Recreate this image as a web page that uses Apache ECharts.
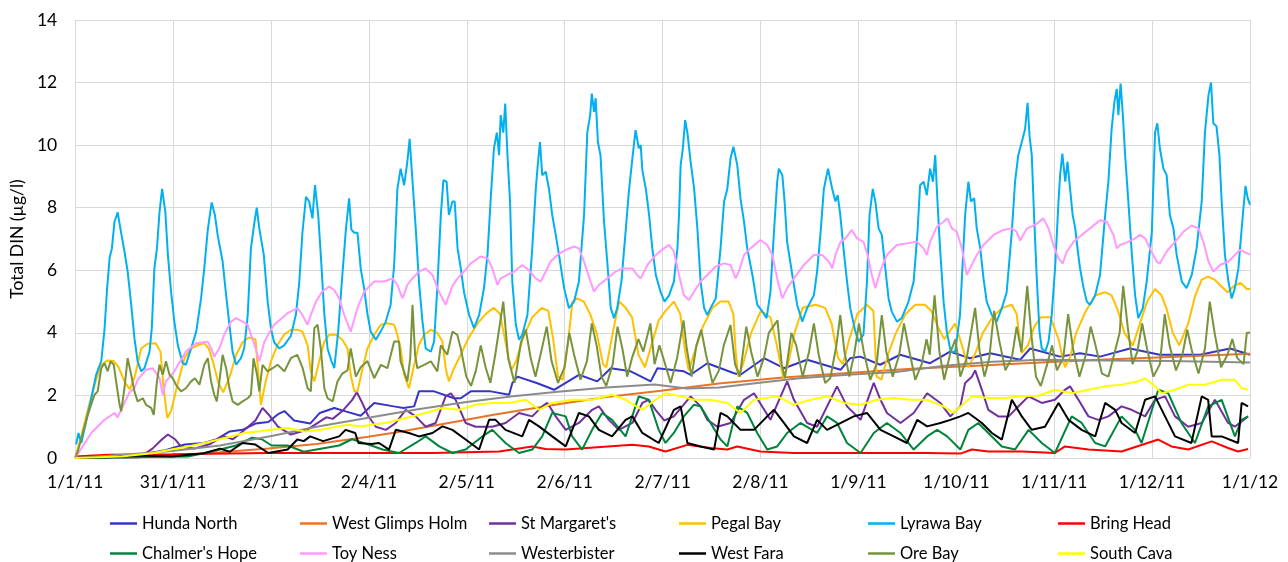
<!DOCTYPE html>
<html><head><meta charset="utf-8">
<script src="https://cdn.jsdelivr.net/npm/echarts@6/dist/echarts.min.js"></script>
<style>html,body{margin:0;padding:0;background:#fff}#c{width:1288px;height:562px}</style>
</head><body><div id="c"></div>
<script>
const tickLabels = ['1/1/11','31/1/11','2/3/11','2/4/11','2/5/11','2/6/11','2/7/11','2/8/11','1/9/11','1/10/11','1/11/11','1/12/11','1/1/12'];
const seriesNames = ['Hunda North','West Glimps Holm',"St Margaret's",'Pegal Bay','Lyrawa Bay','Bring Head',"Chalmer's Hope",'Toy Ness','Westerbister','West Fara','Ore Bay','South Cava'];
const seriesColors = ['#3535C8','#E8732A','#7030A0','#FFC000','#00B0F0','#FF0000','#00843C','#FF99FF','#8C8C8C','#000000','#77933C','#FFFF00'];

// [day of year, value]
const hundaNorth = [[0,0.02],[10,0.05],[20,0.1],[28,0.25],[34,0.43],[40,0.48],[44,0.6],[48,0.85],[52,0.9],[56,1.1],[60,1.15],[63,1.4],[65,1.5],[68,1.2],[73,1.1],[76,1.44],[80.5,1.6],[84,1.49],[88.7,1.35],[92.9,1.76],[99,1.65],[102,1.6],[105.3,1.65],[106.8,2.13],[111.5,2.13],[117.7,1.91],[119.8,1.91],[122.9,2.13],[129.1,2.13],[134.8,2.02],[135.8,2.39],[137.4,2.6],[143.6,2.39],[148.8,2.18],[156.5,2.66],[162.2,2.45],[166.4,2.87],[172.6,2.77],[178.8,2.45],[180.9,2.87],[189.1,2.77],[191.2,2.66],[196.4,3.03],[204.7,2.71],[206.7,2.66],[214.0,3.19],[220.2,2.87],[227.4,3.14],[237.8,2.82],[240.8,3.19],[243.9,3.24],[250.1,2.98],[256.3,3.3],[265.6,3.03],[271.8,3.4],[278.0,3.19],[284.3,3.35],[293.6,3.14],[296.7,3.5],[306.0,3.24],[312.2,3.35],[318.4,3.24],[327.7,3.5],[337.0,3.3],[349.5,3.3],[358.8,3.5],[365,3.3]];
const westGlimpsHolm = [[0,0.03],[30,0.08],[45,0.18],[60,0.3],[75,0.45],[91,0.68],[100,0.82],[116,1.12],[130,1.38],[150,1.72],[165,1.95],[182,2.15],[200,2.38],[220,2.57],[240,2.72],[260,2.85],[280,2.95],[300,3.05],[320,3.15],[340,3.23],[365,3.33]];
const stMargarets = [[0,0],[20,0.02],[24,0.3],[27,0.6],[28.8,0.75],[31,0.6],[33,0.35],[37,0.3],[42,0.45],[46,0.7],[49,0.6],[52,0.85],[56,1.2],[58.2,1.6],[60,1.4],[63,1.0],[67,0.75],[72,0.9],[75,1.1],[78,1.3],[80,1.25],[83,1.5],[86,1.85],[87.5,2.1],[89,1.8],[91,1.35],[93.4,1.0],[96.5,0.9],[99.6,1.12],[102.7,1.54],[105.8,1.33],[108.9,1.0],[112,1.12],[115.1,1.97],[116.7,2.07],[118.2,1.86],[121.3,1.12],[124.4,1.0],[129.6,1.0],[133.7,1.12],[137.9,1.44],[142,1.33],[145.1,1.65],[146.7,1.76],[149.3,1.33],[152.4,0.9],[156.5,1.12],[160.6,1.54],[162.7,1.65],[165.8,1.22],[168.9,0.9],[173.1,1.12],[176.2,1.76],[178.2,1.86],[180.3,1.54],[183,1.2],[186,1.33],[191.2,1.97],[194.3,1.65],[196.4,1.22],[199.5,1.0],[203.6,1.12],[207.8,1.86],[210.9,2.07],[216,1.22],[221.2,2.45],[223.3,1.86],[227.4,1.12],[230.5,1.0],[233.6,1.65],[236.7,2.29],[239.8,1.65],[244,1.22],[248.1,2.4],[250.2,1.86],[252.2,1.44],[256.4,1.12],[260.5,1.44],[264.7,2.07],[268.8,1.76],[271.9,1.33],[275,1.65],[276.5,2.4],[278.6,2.6],[279.6,2.8],[281.7,2.18],[283.7,1.54],[286.8,1.33],[290,1.33],[294.1,1.76],[296.2,1.97],[300.3,1.76],[304.4,1.86],[307.5,2.18],[309.1,2.29],[311.7,1.86],[314.8,1.33],[317.9,1.22],[321,1.33],[325.1,1.65],[328.2,1.54],[332.4,1.33],[335.5,1.86],[338.6,1.97],[341.7,1.33],[345.8,1.0],[350,1.12],[354.1,1.86],[358.2,1.12],[360.3,1.0],[364.4,1.33]];
const pegalBay = [[0,0],[1.9,0.7],[3.4,1.33],[5,1.97],[6.5,2.5],[8.1,2.98],[10.1,3.12],[12,3.1],[13.5,2.9],[15.5,2.4],[17,2.2],[18.5,2.6],[20.5,3.5],[22.5,3.65],[25,3.67],[26.5,3.4],[27.5,2.2],[28.6,1.28],[29.8,1.5],[31.9,2.4],[34,3.2],[36,3.5],[38,3.6],[40,3.67],[41.5,3.5],[43,3.0],[44.5,2.4],[46,2.1],[48,2.6],[50,3.3],[52,3.7],[54,3.85],[56,3.8],[57.7,1.7],[59.2,2.45],[60.8,3.09],[62.9,3.62],[64.9,3.94],[67.0,4.1],[69.1,4.1],[70.6,4.04],[72.2,3.6],[73.2,2.77],[74.3,2.45],[75.8,3.09],[77.4,3.72],[78.9,3.94],[81.0,3.94],[83.0,3.78],[84.6,3.5],[85.6,2.66],[86.7,2.13],[87.7,2.13],[89.3,2.87],[90.8,3.5],[92.9,3.94],[94.9,4.26],[97.0,4.31],[99.1,4.26],[100.1,3.94],[101.1,3.5],[102.2,2.66],[103.7,2.23],[105.3,2.98],[106.8,3.62],[108.4,3.94],[110.5,4.1],[112.5,4.0],[114.1,3.72],[115.1,2.87],[116.1,2.45],[117.7,2.87],[119.8,3.3],[122,3.8],[125,4.3],[127.5,4.6],[130,4.8],[132,4.6],[133.5,3.8],[135.5,2.8],[137,3.1],[139,3.8],[142,4.5],[145,4.8],[147,4.7],[148.5,3.8],[150,2.6],[151.5,2.5],[153,3.6],[154.5,5.0],[156,5.1],[158,5.0],[160,4.6],[162,4.0],[164,3.0],[165,2.9],[167,4.0],[169,5.0],[171,4.8],[173,4.5],[175,3.3],[177,2.9],[179,3.6],[181.3,4.4],[183.4,4.7],[186,5.0],[188,4.6],[189.5,3.4],[190.6,2.8],[192.5,3.4],[195,4.2],[198,4.8],[200.5,5.0],[203,5.0],[204.5,4.6],[205.2,3.4],[206,2.6],[207.5,3.0],[210,4.0],[213,4.7],[216,4.5],[218,3.6],[220,2.55],[221.5,3.0],[223.5,4.0],[226,4.8],[230,4.9],[233,4.8],[235,4.3],[237,3.2],[238.5,3.0],[240.5,3.8],[243,4.6],[246,4.9],[248,4.7],[249,2.6],[250.5,2.5],[252.5,3.3],[255,4.0],[258,4.6],[261,4.9],[264,4.9],[266,4.7],[268,4.2],[270,3.8],[273.4,4.3],[275.5,3.6],[277.5,2.9],[279.5,3.3],[282,4.0],[285,4.5],[288,4.8],[291,4.9],[292.5,4.6],[294,3.35],[296,3.6],[298,4.2],[300,4.5],[303,4.5],[305.5,3.8],[307.5,2.9],[309,3.2],[311,4.0],[314,4.7],[317,5.2],[320,5.3],[322,5.2],[324,4.7],[326,4.0],[328.6,3.6],[330.5,4.2],[333,5.0],[335.5,5.4],[337.5,5.2],[339,4.8],[341,4.0],[343,3.6],[345.8,4.3],[348,5.2],[350,5.7],[352,5.8],[354,5.7],[356,5.5],[358,5.3],[360,5.5],[362,5.6],[364,5.4],[365,5.4]];
const lyrawaBay = [[0.3,0.43],[1.0,0.8],[1.9,0.48],[5.0,1.9],[6.5,2.66],[8.1,3.1],[9.1,4.1],[9.9,5.4],[10.7,6.4],[11.4,6.7],[12.2,7.55],[13.2,7.85],[14.1,7.3],[15.3,6.6],[16.3,5.96],[17.4,4.9],[18.4,3.83],[19.4,3.09],[20.5,2.77],[21.5,2.87],[23.1,3.4],[23.8,4.15],[24.6,6.06],[25.4,6.7],[26.2,7.87],[27.0,8.6],[28.0,7.87],[28.8,6.49],[29.8,5.3],[30.8,4.36],[31.9,3.6],[33.4,3.03],[34.4,2.98],[36.0,3.5],[37.6,4.04],[39.1,5.1],[40.1,6.06],[41.2,7.3],[42.4,8.17],[43.4,7.77],[44.3,7.1],[45.8,6.28],[46.9,5.2],[47.9,4.26],[48.9,3.4],[50.0,2.98],[51.5,3.19],[52.5,3.5],[53.6,4.57],[54.6,6.7],[55.7,7.55],[56.4,8.0],[57.2,7.34],[58.6,6.49],[59.8,5.0],[60.8,4.15],[61.8,3.7],[63.4,3.5],[64.9,3.6],[67.0,3.9],[68.6,4.6],[69.6,5.6],[70.6,7.2],[71.7,8.35],[72.7,8.2],[73.7,7.66],[74.5,8.72],[75.5,7.77],[76.3,6.5],[77.4,4.6],[78.4,3.5],[79.6,3.1],[80.5,2.87],[81.7,4.04],[83.0,5.85],[84.1,7.3],[85.1,8.3],[85.8,7.3],[86.7,7.2],[87.7,7.2],[88.7,6.06],[89.8,5.4],[90.8,4.6],[91.8,4.04],[93.4,3.78],[94.9,4.04],[96.5,4.36],[98.0,4.9],[99.1,6.17],[100.1,8.6],[101.1,9.25],[102.2,8.72],[103.2,9.47],[103.9,10.2],[104.5,10.2],[105.1,8.4],[105.8,7.34],[106.8,5.64],[107.9,4.36],[108.9,3.5],[110.5,3.4],[111.5,3.72],[112.5,5.43],[113.6,7.77],[114.4,8.88],[115.4,8.83],[116.1,7.77],[117.2,8.2],[117.9,8.2],[118.8,6.7],[119.8,6.06],[120.8,5.3],[122.4,4.57],[123.9,4.15],[125.5,4.57],[127.0,5.43],[128.1,6.5],[129.1,8.3],[130.1,9.9],[131.0,10.4],[131.7,9.68],[132.2,10.96],[133.0,10.4],[133.6,11.33],[134.3,9.68],[135.1,8.2],[135.8,5.64],[136.9,4.26],[137.9,3.78],[138.9,3.94],[140.5,4.57],[142.0,6.7],[143.1,8.6],[143.8,9.47],[144.4,10.1],[145.1,9.04],[146.2,9.15],[147.2,8.6],[148.2,7.77],[149.3,7.13],[150.3,6.5],[151.9,5.43],[153.4,4.79],[155.0,5.0],[156.5,5.64],[158.1,7.77],[159.1,10.4],[160.0,10.96],[160.5,11.65],[161.2,11.06],[161.7,11.5],[162.4,10.1],[163.2,9.68],[164.3,7.55],[165.3,6.28],[166.4,4.79],[167.4,4.47],[168.4,4.79],[169.7,5.64],[171.0,7.23],[172.0,8.5],[173.1,9.57],[174.1,10.48],[175.1,9.9],[175.7,10.0],[176.2,9.2],[177.3,8.6],[178.3,7.77],[179.3,6.7],[180.4,5.85],[181.9,5.3],[183.1,5.0],[184.5,5.2],[186.0,5.64],[187.1,6.7],[187.6,7.77],[188.1,9.36],[188.8,9.9],[189.5,10.8],[190.2,10.4],[191.2,9.47],[192.3,8.6],[193.3,7.34],[194.3,5.64],[195.4,4.79],[196.4,4.57],[197.4,4.79],[199.0,5.1],[200.5,6.7],[201.6,8.2],[202.6,8.6],[203.6,9.57],[204.5,9.95],[205.7,9.36],[206.7,8.3],[207.8,7.55],[208.8,6.7],[210.4,5.85],[211.9,4.9],[213.5,4.68],[214.8,4.47],[216.0,5.3],[217.1,7.23],[218.1,8.83],[218.6,9.25],[219.7,9.04],[220.4,8.2],[221.2,6.9],[222.8,5.85],[224.3,4.9],[225.9,4.36],[227.4,4.79],[229.5,5.2],[230.5,5.96],[231.6,7.23],[232.6,8.6],[233.9,9.25],[235.2,8.6],[236.2,8.2],[236.9,8.4],[237.7,7.77],[238.7,6.7],[239.8,5.64],[240.8,4.79],[242.4,4.04],[243.4,3.72],[244.9,3.94],[246.0,5.64],[246.8,7.77],[247.8,8.6],[248.6,8.2],[249.6,7.34],[250.6,7.13],[251.7,6.06],[252.7,5.1],[253.7,4.68],[255.3,4.36],[256.8,4.47],[258.9,5.0],[260.5,5.64],[261.7,7.23],[262.5,8.72],[263.6,8.83],[264.6,8.4],[265.6,9.25],[266.5,8.83],[267.2,9.68],[267.9,8.2],[268.7,6.7],[269.8,5.0],[270.8,4.04],[272.0,3.4],[273.4,3.4],[274.9,4.57],[276.5,7.77],[277.5,8.83],[278.3,8.2],[279.3,8.3],[280.1,7.34],[281.2,6.7],[282.2,5.74],[283.2,5.0],[284.8,4.57],[286.3,4.36],[287.9,4.79],[289.4,5.3],[291.0,7.23],[292.0,8.83],[293.0,9.68],[294.1,10.1],[295.1,10.5],[295.9,11.35],[296.5,10.3],[297.2,9.68],[297.9,7.77],[298.8,5.64],[299.6,4.04],[300.3,3.5],[301.4,3.4],[302.4,3.72],[303.4,4.57],[304.5,6.17],[305.5,8.2],[306.0,9.04],[306.7,9.73],[307.6,8.83],[308.3,9.47],[309.1,8.6],[309.9,7.77],[310.7,7.34],[311.4,6.7],[312.2,6.06],[313.3,5.43],[314.3,5.0],[315.3,4.9],[316.9,5.2],[318.4,5.85],[320.0,7.77],[321.0,8.83],[322.0,10.5],[322.9,11.4],[323.6,11.8],[324.1,10.96],[324.8,11.97],[325.5,10.96],[326.2,9.68],[327.2,8.2],[328.3,6.5],[329.3,5.2],[330.3,4.47],[331.7,4.79],[332.9,5.64],[334.5,7.23],[335.5,10.4],[336.2,10.7],[337.0,9.9],[338.1,9.25],[339.1,9.04],[340.1,7.77],[341.2,7.34],[342.2,6.5],[343.8,5.64],[345.3,5.43],[346.9,5.85],[348.4,6.7],[350.0,8.2],[351.0,10.4],[352.1,11.6],[352.9,12.0],[353.6,10.7],[354.6,10.6],[355.5,9.68],[356.2,8.2],[357.2,6.5],[358.3,5.64],[359.3,5.1],[360.3,5.43],[361.4,6.06],[361.9,6.7],[362.8,7.8],[363.6,8.7],[364.3,8.3],[365,8.1]];
const bringHead = [[0,0.05],[10,0.1],[30,0.12],[60,0.16],[90.3,0.16],[111,0.16],[131.7,0.21],[138.9,0.32],[142,0.37],[146.2,0.29],[152.4,0.27],[173.1,0.42],[178.2,0.37],[183.4,0.21],[190.2,0.42],[197.4,0.32],[202.6,0.27],[205.7,0.37],[212.9,0.21],[223.3,0.16],[244,0.16],[264.7,0.16],[275,0.14],[278.6,0.27],[283.7,0.21],[294.1,0.21],[304.4,0.16],[307.5,0.37],[314.8,0.27],[325.1,0.21],[336.5,0.59],[340.6,0.37],[345.8,0.27],[353.1,0.53],[358.2,0.32],[361.3,0.21],[364.4,0.29]];
const chalmersHope = [[0,0],[35,0.05],[40,0.15],[45,0.27],[50,0.4],[55,0.65],[58,0.6],[61,0.4],[66,0.4],[71,0.2],[82,0.4],[86,0.6],[89,0.5],[92,0.4],[95.5,0.27],[100.6,0.16],[105.8,0.48],[108.9,0.69],[113.1,0.37],[117.2,0.16],[121.3,0.27],[126.5,0.69],[129.6,0.9],[133.7,0.48],[137.9,0.16],[142,0.27],[145.1,0.69],[148.2,1.44],[152.4,1.33],[154.4,0.69],[157.5,0.27],[160.6,0.9],[163.7,1.44],[166.8,1.22],[171,0.69],[175.1,1.97],[178.2,1.86],[181.3,0.9],[183.4,0.48],[186,0.8],[189.1,1.33],[192.2,1.7],[194.3,1.65],[197.4,1.12],[200.5,0.59],[202.6,0.37],[205.7,1.65],[208.8,1.44],[211.9,0.8],[215,0.27],[218.1,0.37],[221.2,0.8],[225.3,1.12],[230.5,0.8],[233.6,1.33],[236.7,1.12],[239.8,0.48],[244,0.16],[248.1,0.8],[252.2,1.12],[256.4,0.8],[260.5,0.27],[264.7,0.69],[267.8,0.9],[270.9,0.69],[275,0.27],[277.5,0.9],[280.6,1.12],[283.7,0.8],[287.9,0.37],[292,0.27],[296.2,0.9],[300.3,0.48],[304.4,0.16],[309.6,1.33],[312.7,1.12],[316.9,0.48],[320,0.37],[325.1,1.33],[329.3,0.9],[331.3,0.48],[336.5,2.18],[339.6,2.07],[343.7,1.12],[347.9,0.48],[352,1.65],[356.2,1.86],[360.3,0.69],[362.4,1.22],[364.4,1.33]];
const toyNess = [[0,0],[5,0.8],[9.1,1.22],[12.2,1.44],[13.2,1.3],[14.3,1.55],[16.9,2.1],[18.4,2.23],[19.4,2.5],[22.0,2.82],[24.1,2.87],[26.2,2.55],[27.2,2.02],[28.2,2.45],[30.8,2.77],[34.4,3.4],[37.6,3.67],[41.2,3.72],[42.2,3.51],[43.2,3.24],[44.8,3.51],[46.3,3.94],[48.4,4.36],[50.0,4.47],[52.0,4.36],[53.6,4.26],[55.7,3.62],[57.2,3.09],[58.8,3.72],[60.8,4.1],[61.8,4.26],[66.0,4.63],[69.1,4.79],[70.6,4.57],[72.2,4.26],[73.2,4.57],[74.8,5.0],[76.8,5.32],[78.9,5.48],[80.5,5.37],[82.0,5.1],[83.6,4.57],[85.6,4.04],[87.7,4.79],[89.8,5.32],[92.9,5.64],[96.0,5.64],[98.6,5.74],[100.1,5.53],[101.7,5.1],[103.2,5.53],[104.8,5.74],[106.8,5.96],[108.9,6.06],[111.0,5.85],[113.0,5.32],[115.1,4.9],[117.2,5.5],[118.8,5.74],[120.8,5.96],[122.9,6.22],[126.0,6.44],[128.1,6.38],[129.6,6.06],[131.2,5.53],[132.2,5.74],[134.3,5.85],[136.4,5.96],[138.9,6.17],[141.0,6.0],[143.1,5.74],[144.6,5.64],[146.2,5.96],[147.7,6.28],[149.8,6.49],[152.4,6.65],[155.0,6.76],[156.5,6.7],[158.1,6.28],[160.1,5.64],[161.2,5.32],[162.7,5.53],[165.3,5.74],[167.9,5.96],[170.0,6.06],[173.1,6.06],[174.6,5.85],[175.7,5.74],[177.8,6.17],[180.4,6.49],[182.9,6.7],[184.5,6.81],[186.0,6.6],[187.6,5.85],[189.1,5.2],[190.7,5.05],[192.3,5.32],[194.3,5.64],[196.4,5.85],[199.0,6.12],[201.6,6.22],[203.6,6.17],[205.2,5.74],[206.2,5.96],[207.8,6.49],[209.8,6.7],[212.9,6.97],[215.0,6.81],[216.6,6.49],[218.1,5.74],[219.7,5.1],[221.2,5.43],[223.3,5.74],[226.4,6.17],[229.5,6.49],[232.1,6.49],[234.1,6.28],[235.2,6.06],[236.2,6.49],[237.8,6.91],[239.3,7.02],[241.3,7.29],[242.9,7.02],[244.9,6.91],[246.2,6.49],[247.5,5.85],[248.6,5.43],[250.1,5.96],[252.2,6.49],[255.3,6.81],[258.4,6.86],[261.5,6.91],[263.6,6.7],[264.6,6.49],[265.6,6.91],[267.7,7.39],[269.8,7.55],[271.0,7.66],[272.4,7.34],[273.9,7.23],[275.5,6.7],[277.0,5.85],[278.0,6.06],[280.1,6.49],[282.2,6.81],[285.3,7.13],[288.4,7.29],[291.0,7.34],[292.5,7.23],[293.6,6.95],[295.7,7.34],[298.3,7.45],[300.8,7.66],[302.4,7.34],[303.9,6.81],[305.5,6.38],[306.8,6.22],[308.1,6.6],[310.2,6.91],[312.7,7.13],[315.3,7.34],[318.4,7.6],[320.5,7.55],[322.6,7.13],[323.6,6.7],[324.6,6.81],[327.2,6.91],[329.3,7.02],[330.8,7.13],[332.4,7.02],[333.9,6.7],[336.0,6.28],[337.0,6.22],[339.1,6.6],[341.7,6.91],[344.3,7.23],[346.9,7.43],[349.0,7.34],[350.5,6.91],[352.1,6.28],[353.6,5.96],[355.7,6.17],[358.3,6.28],[360.3,6.49],[361.9,6.65],[365,6.5]];
const westerbister = [[0,0],[15,0.1],[30,0.22],[45,0.4],[61,0.7],[75,1.0],[92,1.3],[106,1.55],[121,1.78],[136,1.97],[150,2.12],[165,2.25],[180,2.35],[190,2.22],[200,2.25],[212,2.4],[225,2.55],[240,2.66],[255,2.75],[270,2.95],[285,3.08],[300,3.14],[320,3.12],[340,3.1],[365,3.05]];
const westFara = [[0,0],[10,0.02],[20,0.08],[30,0.05],[40,0.15],[45,0.3],[48,0.2],[52,0.48],[56,0.43],[60,0.16],[66,0.27],[69,0.59],[71,0.54],[73,0.69],[77,0.54],[82,0.69],[84,0.9],[87,0.8],[88,0.48],[92,0.45],[94.4,0.48],[97.5,0.27],[99.6,0.9],[103.7,0.8],[106.8,0.69],[111,0.8],[114.1,1.01],[117.2,0.9],[121.3,0.59],[125.5,0.27],[128.6,1.22],[130.6,1.22],[133.7,0.9],[138.9,0.69],[141,1.22],[144.1,1.01],[148.2,0.69],[152.4,0.37],[156.5,1.44],[159.6,1.33],[162.7,0.9],[166.8,0.69],[171,1.22],[173.1,1.33],[176.2,0.8],[181.3,0.48],[186,1.54],[188.1,1.65],[190.2,0.48],[194.3,0.37],[198.5,0.27],[200.5,1.44],[202.6,1.33],[206.7,0.9],[210.9,0.9],[215,1.33],[217.1,1.54],[220.2,1.12],[223.3,0.69],[227.4,0.48],[230.5,1.22],[233.6,0.9],[241.9,1.33],[246,1.44],[250.2,0.9],[254.3,0.69],[258.4,0.48],[261.6,1.22],[264.7,1.01],[268.8,1.12],[271.9,1.22],[275,1.33],[277.5,1.44],[281.7,1.12],[284.8,0.8],[287.9,0.59],[291,1.86],[294.1,1.33],[297.2,0.9],[301.3,1.0],[305.5,1.76],[308.6,1.22],[312.7,0.9],[316.9,0.69],[320,1.76],[323.1,1.54],[325.1,1.12],[329.3,0.8],[332.4,1.86],[335.5,1.97],[338.6,1.33],[341.7,0.69],[346.8,0.48],[350,1.97],[352,1.86],[353.1,0.69],[356.2,0.69],[361.3,0.48],[362.4,1.76],[364.4,1.65]];
const oreBay = [[0,0],[0.8,0.21],[3.9,1.38],[6.0,2.02],[7.0,2.13],[8.1,2.87],[9.1,3.03],[10.1,2.77],[11.0,3.09],[12.0,2.98],[12.7,2.45],[13.8,1.7],[14.3,1.49],[15.3,2.23],[16.3,3.19],[17.4,2.66],[18.4,2.13],[19.4,1.81],[21.0,1.91],[22.0,1.7],[23.6,1.6],[24.4,1.38],[25.4,2.45],[26.2,2.98],[27.2,2.66],[28.2,3.09],[29.3,2.66],[30.3,2.55],[31.3,2.34],[32.9,2.13],[34.4,2.23],[36.0,2.45],[37.2,2.55],[38.6,2.34],[40.1,2.98],[41.2,3.19],[42.2,2.45],[43.2,2.02],[44.0,1.81],[44.8,2.45],[45.8,3.3],[46.9,2.87],[47.9,2.23],[48.9,1.81],[50.5,1.7],[52.0,1.81],[53.6,1.91],[54.6,2.02],[55.4,3.19],[56.5,2.66],[57.2,2.13],[58.2,2.98],[59.8,2.77],[61.3,2.87],[62.9,2.98],[65,2.77],[67,3.19],[69,3.3],[70.6,2.9],[72.2,2.23],[73.2,2.13],[74.3,4.15],[75.3,4.26],[76.3,3.5],[77.4,2.23],[78.4,1.91],[80,1.81],[81.5,2.45],[83,2.7],[84.6,2.8],[85.6,3.5],[87.2,2.6],[88.7,2.9],[90.8,3.1],[92.9,2.55],[95,2.98],[97,2.87],[99.1,3.72],[100.6,3.72],[101.1,3.09],[103.2,2.45],[104.1,3.2],[104.8,4.9],[105.6,3.3],[106.3,2.87],[108.4,2.98],[110.5,3.09],[112.5,2.77],[113.6,3.6],[115.6,3.3],[117.2,4.04],[118.7,3.94],[119.8,3.5],[121.5,2.6],[123,2.3],[124.5,2.8],[126,3.6],[127.5,2.9],[129,2.4],[130.5,3.3],[133,5.0],[134.5,3.2],[136.5,2.4],[138.5,3.7],[140,4.1],[141.5,3.2],[143,2.6],[145,3.5],[146.5,4.2],[148,3.1],[150,2.4],[152,2.9],[153.5,4.0],[155,3.3],[157,2.5],[159,3.1],[160.5,4.3],[162,3.6],[163.5,2.6],[165,2.3],[167,3.0],[168.5,4.2],[170,3.5],[171.5,2.6],[173,3.2],[175,3.8],[176.5,3.4],[178.7,4.3],[180,3.0],[181.5,3.6],[183,3.1],[185,2.4],[187,3.2],[189,4.4],[190,3.5],[191.5,2.6],[193,3.6],[194.5,4.1],[196,3.3],[198,2.4],[200,2.8],[201.5,3.6],[203.6,4.25],[205,3.0],[206.5,2.6],[208.5,4.2],[210,3.4],[212,2.6],[214,3.2],[215.5,4.0],[218.2,4.4],[219.5,3.0],[220.5,2.55],[222.5,4.0],[224,3.6],[226,2.6],[228,3.4],[229.5,4.3],[231,3.3],[233,2.4],[234.6,2.55],[236.5,3.6],[237.7,4.57],[239,3.4],[240.5,2.6],[242,3.3],[243.5,4.3],[245,3.4],[247,2.5],[249,3.0],[250.6,4.57],[252,3.4],[254,2.6],[256,3.3],[257.5,4.3],[259,3.5],[261,2.5],[263,3.0],[264.5,3.8],[265.5,3.3],[267,5.2],[268.5,3.4],[270,2.5],[272,3.4],[273.5,3.8],[275,2.6],[277,3.2],[279.6,4.8],[281,3.4],[282.5,2.6],[284,3.2],[285.5,4.7],[287,3.8],[289,2.8],[291,3.2],[292.5,4.2],[294,3.4],[295.8,5.5],[297,4.0],[298.5,2.6],[300,2.3],[302,3.0],[303.5,3.6],[305,2.8],[307,3.2],[308.5,4.6],[310,3.5],[312,2.6],[314,3.3],[315.5,4.2],[317,3.6],[319,2.7],[321,2.6],[323,3.4],[324.5,4.0],[325.6,5.5],[327,4.2],[328.5,3.0],[330,3.4],[331.5,4.3],[333,3.5],[335,2.6],[337,3.0],[338.5,4.6],[340,3.6],[342,2.8],[344,3.3],[345.5,4.1],[347,3.4],[349,2.7],[351,3.5],[352.5,5.0],[354,4.0],[356,2.9],[358,3.3],[359.5,3.8],[361,3.2],[363,3.0],[364,4.0],[365,4.0]];
const southCava = [[0,0],[14.3,0.05],[24.6,0.16],[29.8,0.27],[35,0.37],[40.1,0.48],[48.4,0.69],[52.5,0.8],[56.7,0.85],[60.8,0.9],[66,0.96],[71.2,0.85],[76.3,0.9],[81.5,1.01],[84.6,1.06],[88.8,1.01],[91.9,1.06],[96.5,1.12],[102.7,1.28],[108.9,1.44],[114.1,1.6],[119.3,1.54],[124.4,1.7],[129.6,1.76],[134.8,1.76],[140.0,1.86],[144.1,1.54],[148.2,1.76],[154.4,1.86],[160.6,1.86],[166.8,2.02],[171.0,1.86],[176.2,1.54],[180.3,1.86],[183.4,2.07],[188.1,1.97],[192.2,1.86],[197.4,1.86],[202.6,1.76],[206.7,1.44],[210.9,1.86],[218.1,1.97],[223.3,1.7],[228.5,1.86],[233.6,1.97],[238.8,1.76],[244.0,1.7],[249.1,1.86],[254.3,1.92],[259.5,1.86],[264.7,1.86],[269.8,1.65],[272.9,1.44],[278.6,1.97],[283.7,1.92],[288.9,1.92],[294.1,1.97],[299.3,1.99],[304.4,2.18],[309.6,2.07],[314.8,2.18],[320.0,2.29],[325.1,2.34],[330.3,2.45],[332.4,2.55],[335.5,2.29],[337.5,2.07],[341.7,2.18],[345.8,2.34],[351.0,2.34],[356.2,2.5],[360.3,2.5],[362.4,2.23],[364.4,2.18]];

const seriesData = [hundaNorth, westGlimpsHolm, stMargarets, pegalBay, lyrawaBay, bringHead, chalmersHope, toyNess, westerbister, westFara, oreBay, southCava];

const FONT = 'Lato';
const TICK = 365 / 12;
const chart = echarts.init(document.getElementById('c'), null, {renderer: 'canvas'});
const legendCols = [110, 300, 489, 679, 868, 1058];
const legendRows = [515, 545];
const legends = seriesNames.map((n, i) => ({
  left: legendCols[i % 6], top: legendRows[Math.floor(i / 6)], padding: 0,
  itemWidth: 27, itemHeight: 2.5, icon: 'rect', selectedMode: false,
  textStyle: {fontFamily: FONT, fontSize: 16.5, color: '#000'},
  data: [n]
}));
chart.setOption({
  animation: false,
  backgroundColor: '#fff',
  grid: {left: 74, right: 38, top: 20, bottom: 104, containLabel: false},
  xAxis: {
    type: 'value', min: 0, max: 365, interval: TICK,
    axisLabel: {formatter: v => tickLabels[Math.round(v / TICK)] || '', fontFamily: FONT, fontSize: 17.5, color: '#000', margin: 15},
    axisTick: {show: false},
    axisLine: {show: true, lineStyle: {color: '#d9d9d9', width: 1}},
    splitLine: {show: true, lineStyle: {color: '#d9d9d9', width: 1}}
  },
  yAxis: {
    type: 'value', min: 0, max: 14, interval: 2,
    name: 'Total DIN (µg/l)', nameLocation: 'middle', nameGap: 48, nameRotate: 90,
    nameTextStyle: {fontFamily: FONT, fontSize: 17.5, color: '#000'},
    axisLabel: {fontFamily: FONT, fontSize: 17.5, color: '#000', margin: 18},
    axisTick: {show: false},
    axisLine: {show: false},
    splitLine: {show: true, lineStyle: {color: '#d9d9d9', width: 1}}
  },
  legend: legends,
  series: seriesNames.map((n, i) => ({
    name: n, type: 'line', data: seriesData[i], showSymbol: false, symbol: 'none',
    lineStyle: {width: 2, color: seriesColors[i]}, itemStyle: {color: seriesColors[i]},
    z: 2 + i, silent: true
  }))
});
</script></body></html>
